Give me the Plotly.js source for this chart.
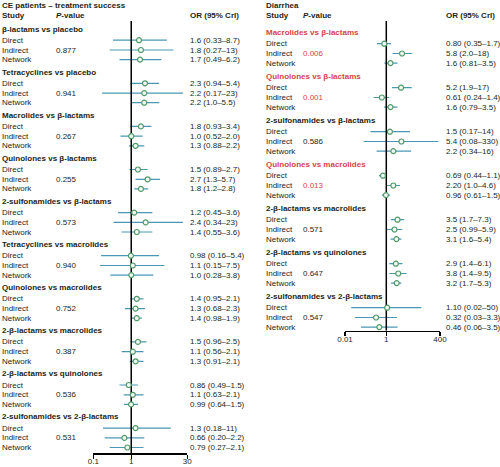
<!DOCTYPE html>
<html><head><meta charset="utf-8">
<script src="https://cdn.plot.ly/plotly-3.0.1.min.js"></script>
<style>html,body{margin:0;padding:0;background:#fff;overflow:hidden}#chart{width:500px;height:467px}</style>
</head><body><div id="chart"></div>
<script>
const rowTypes = ["Direct", "Indirect", "Network"];

// ---- Left panel: CE patients – treatment success ----
const leftComparisons = [
  "β-lactams vs placebo", "Tetracyclines vs placebo", "Macrolides vs β-lactams",
  "Quinolones vs β-lactams", "2-sulfonamides vs β-lactams", "Tetracyclines vs macrolides",
  "Quinolones vs macrolides", "2-β-lactams vs macrolides", "2-β-lactams vs quinolones",
  "2-sulfonamides vs 2-β-lactams"
];
const leftPValues = ["0.877", "0.941", "0.267", "0.255", "0.573", "0.940", "0.752", "0.387", "0.536", "0.531"];
const leftEst  = [1.6, 1.8, 1.7,  2.3, 2.2, 2.2,  1.8, 1.0, 1.3,  1.5, 2.7, 1.8,  1.2, 2.4, 1.4,
                  0.98, 1.1, 1.0,  1.4, 1.3, 1.4,  1.5, 1.1, 1.3,  0.86, 1.1, 0.99,  1.3, 0.66, 0.79];
const leftLow  = [0.33, 0.27, 0.49,  0.94, 0.17, 1.0,  0.93, 0.52, 0.88,  0.89, 1.3, 1.2,  0.45, 0.34, 0.55,
                  0.16, 0.15, 0.28,  0.95, 0.68, 0.98,  0.96, 0.56, 0.91,  0.49, 0.63, 0.64,  0.18, 0.20, 0.27];
const leftHigh = [8.7, 13, 6.2,  5.4, 23, 5.5,  3.4, 2.0, 2.2,  2.7, 5.7, 2.8,  3.6, 23, 3.6,
                  5.4, 7.5, 3.8,  2.1, 2.3, 1.9,  2.5, 2.1, 2.1,  1.5, 2.1, 1.5,  11, 2.2, 2.1];
const leftOrText = [
  "1.6 (0.33–8.7)", "1.8 (0.27–13)", "1.7 (0.49–6.2)",
  "2.3 (0.94–5.4)", "2.2 (0.17–23)", "2.2 (1.0–5.5)",
  "1.8 (0.93–3.4)", "1.0 (0.52–2.0)", "1.3 (0.88–2.2)",
  "1.5 (0.89–2.7)", "2.7 (1.3–5.7)", "1.8 (1.2–2.8)",
  "1.2 (0.45–3.6)", "2.4 (0.34–23)", "1.4 (0.55–3.6)",
  "0.98 (0.16–5.4)", "1.1 (0.15–7.5)", "1.0 (0.28–3.8)",
  "1.4 (0.95–2.1)", "1.3 (0.68–2.3)", "1.4 (0.98–1.9)",
  "1.5 (0.96–2.5)", "1.1 (0.56–2.1)", "1.3 (0.91–2.1)",
  "0.86 (0.49–1.5)", "1.1 (0.63–2.1)", "0.99 (0.64–1.5)",
  "1.3 (0.18–11)", "0.66 (0.20–2.2)", "0.79 (0.27–2.1)"
];
const leftTicks = [0.1, 1, 30];
const leftTickText = ["0.1", "1", "30"];

// ---- Right panel: Diarrhea ----
const rightComparisons = [
  "Macrolides vs β-lactams", "Quinolones vs β-lactams", "2-sulfonamides vs β-lactams",
  "Quinolones vs macrolides", "2-β-lactams vs macrolides", "2-β-lactams vs quinolones",
  "2-sulfonamides vs 2-β-lactams"
];
const rightPValues = ["0.006", "0.001", "0.586", "0.013", "0.571", "0.647", "0.547"];
const rightSignificant = [true, true, false, true, false, false, false];
const rightEst  = [0.80, 5.8, 1.6,  5.2, 0.61, 1.6,  1.5, 5.4, 2.2,  0.69, 2.20, 0.96,
                   3.5, 2.5, 3.1,  2.9, 3.8, 3.2,  1.10, 0.32, 0.46];
const rightLow  = [0.35, 2.0, 0.81,  1.9, 0.24, 0.79,  0.17, 0.08, 0.34,  0.44, 1.0, 0.61,
                   1.7, 0.99, 1.6,  1.4, 1.4, 1.7,  0.02, 0.03, 0.06];
const rightHigh = [1.7, 18, 3.5,  17, 1.4, 3.5,  14, 330, 16,  1.1, 4.6, 1.5,
                   7.3, 5.9, 5.4,  6.1, 9.5, 5.3,  50, 3.3, 3.5];
const rightOrText = [
  "0.80 (0.35–1.7)", "5.8 (2.0–18)", "1.6 (0.81–3.5)",
  "5.2 (1.9–17)", "0.61 (0.24–1.4)", "1.6 (0.79–3.5)",
  "1.5 (0.17–14)", "5.4 (0.08–330)", "2.2 (0.34–16)",
  "0.69 (0.44–1.1)", "2.20 (1.0–4.6)", "0.96 (0.61–1.5)",
  "3.5 (1.7–7.3)", "2.5 (0.99–5.9)", "3.1 (1.6–5.4)",
  "2.9 (1.4–6.1)", "3.8 (1.4–9.5)", "3.2 (1.7–5.3)",
  "1.10 (0.02–50)", "0.32 (0.03–3.3)", "0.46 (0.06–3.5)"
];
const rightTicks = [0.01, 1, 400];
const rightTickText = ["0.01", "1", "400"];

// ---- Styling / layout constants ----
const W = 500, H = 467;
const FONT = "'Liberation Sans', Arial, Helvetica, sans-serif";
const TEXT = "#231f20", RED = "#d6434b";
const CI_COLOR = "#4a97b4", MK_LINE = "#4f9a6a", MK_FILL = "#f2f8f2";
const rowOffsets = [11.2, 21.0, 30.6];
const LEFT_AXIS_Y = 453.3, RIGHT_AXIS_Y = 330.7;

const panels = [
  { comps: leftComparisons, p: leftPValues, sig: leftComparisons.map(() => false),
    est: leftEst, lo: leftLow, hi: leftHigh, txt: leftOrText,
    xa: "x", ya: "y", start: 29, step: 43.1, axisY: LEFT_AXIS_Y, refTop: 21,
    colStudy: 1, colP: 55, colOR: 189, title: "CE patients – treatment success" },
  { comps: rightComparisons, p: rightPValues, sig: rightSignificant,
    est: rightEst, lo: rightLow, hi: rightHigh, txt: rightOrText,
    xa: "x2", ya: "y2", start: 32.5, step: 44.0, axisY: RIGHT_AXIS_Y, refTop: 21,
    colStudy: 265, colP: 302, colOR: 445, title: "Diarrhea" }
];

const traces = [];
const annotations = [];
function addText(xpx, y, text, color) {
  annotations.push({
    xref: "paper", yref: "y", x: xpx / W, y: y, text: text, showarrow: false,
    xanchor: "left", yanchor: "middle", borderpad: 0,
    font: { family: FONT, size: 8, color: color || TEXT }
  });
}

panels.forEach(pn => {
  const ys = [];
  const cx = [], cy = [];
  pn.comps.forEach((c, g) => {
    const gy = pn.start + g * pn.step;
    const col = pn.sig[g] ? RED : TEXT;
    addText(pn.colStudy, gy, "<b>" + c + "</b>", col);
    rowTypes.forEach((rt, r) => {
      const i = g * 3 + r;
      const y = gy + rowOffsets[r];
      ys.push(y);
      addText(pn.colStudy, y, rt);
      addText(pn.colOR, y, pn.txt[i]);
      if (r === 1) addText(pn.colP, y, pn.p[g], col);
      cx.push(pn.lo[i], pn.hi[i], null);
      cy.push(y, y, null);
    });
  });
  addText(pn.colStudy, 5, "<b>" + pn.title + "</b>");
  addText(pn.colStudy, 15.5, "<b>Study</b>");
  addText(pn.colP, 15.5, "<b><i>P</i>-value</b>");
  addText(pn.colOR, 15.5, "<b>OR (95% CrI)</b>");

  traces.push({ type: "scatter", mode: "lines", x: cx, y: cy, xaxis: pn.xa, yaxis: pn.ya,
    line: { color: CI_COLOR, width: 1.2 }, hoverinfo: "skip", showlegend: false, cliponaxis: false });
  traces.push({ type: "scatter", mode: "lines", x: [1, 1], y: [pn.refTop, pn.axisY],
    xaxis: pn.xa, yaxis: pn.ya, line: { color: "#000", width: 1.5 }, hoverinfo: "skip",
    showlegend: false, cliponaxis: false });
  traces.push({ type: "scatter", mode: "markers", x: pn.est, y: ys, xaxis: pn.xa, yaxis: pn.ya,
    marker: { symbol: "circle", size: 5, color: MK_FILL, line: { color: MK_LINE, width: 1.2 } },
    showlegend: false, cliponaxis: false });
});

function xAxis(range, domain, anchor, vals, text) {
  return {
    type: "log", range: range, domain: domain, anchor: anchor,
    showline: true, linecolor: "#000", linewidth: 1.5, ticks: "outside", ticklen: 4,
    tickwidth: 1.5, tickcolor: "#000", tickvals: vals, ticktext: text, ticklabelstandoff: -4,
    tickfont: { family: FONT, size: 8, color: TEXT }, showgrid: false, zeroline: false,
    fixedrange: true
  };
}
// y axes: 1 data unit = 1 pixel from the top; each x axis sits at the bottom of its y domain
function yAxis(axisY) {
  return { range: [axisY, 0], domain: [(H - axisY) / H, 1], visible: false, fixedrange: true };
}

const layout = {
  width: W, height: H, margin: { l: 0, r: 0, t: 0, b: 0 },
  paper_bgcolor: "#fff", plot_bgcolor: "rgba(0,0,0,0)", showlegend: false,
  xaxis: xAxis([-1, Math.log10(30)], [93.3 / W, 187.3 / W], "y", leftTicks, leftTickText),
  xaxis2: xAxis([-2, Math.log10(400)], [345 / W, 440 / W], "y2", rightTicks, rightTickText),
  yaxis: yAxis(LEFT_AXIS_Y),
  yaxis2: Object.assign(yAxis(RIGHT_AXIS_Y), { anchor: "x2" }),
  annotations: annotations
};

Plotly.newPlot("chart", traces, layout, { staticPlot: true, displayModeBar: false });
</script>
</body></html>
